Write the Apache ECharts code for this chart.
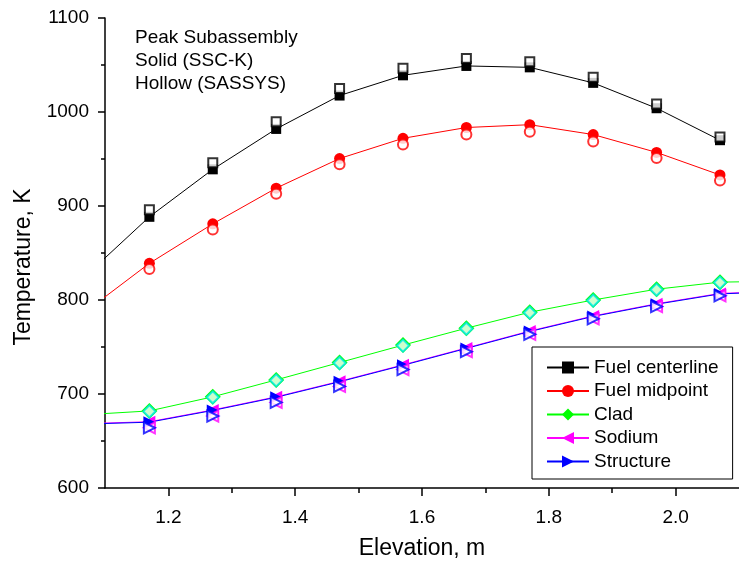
<!DOCTYPE html>
<html>
<head>
<meta charset="utf-8">
<script src="https://cdn.jsdelivr.net/npm/echarts@6/dist/echarts.min.js"></script>
<style>
  html, body { margin: 0; padding: 0; background: #fff; }
  #chart { width: 739px; height: 565px; }
</style>
</head>
<body>
<div id="chart"></div>
<script>
// Axial temperature profiles in the peak subassembly.
// Solid markers: SSC-K results (with connecting lines); hollow markers: SASSYS results.

// Elevations (m) of the computed nodes; first and last nodes lie just outside the plotted range.
const elevation = [1.07, 1.17, 1.27, 1.37, 1.47, 1.57, 1.67, 1.77, 1.87, 1.97, 2.07, 2.17];
const elevationHollow = [1.17, 1.27, 1.37, 1.47, 1.57, 1.67, 1.77, 1.87, 1.97, 2.07];

// SSC-K temperatures (K)
const fuelCenterlineSSC = [826, 888.5, 939, 982, 1017.5, 1039, 1049, 1047.5, 1031, 1004, 970, null];
const fuelMidpointSSC   = [788, 839, 881, 919, 950.5, 972, 983.5, 986.5, 976, 957, 933, null];
const cladSSC           = [678, 682, 697, 715, 733.5, 752, 770, 787, 800, 811.5, 819, 820];
const sodiumSSC         = [668.5, 670.5, 683, 697, 713.5, 731, 749, 767, 783, 796, 807, 809.5];
const structureSSC      = [668, 670, 682.5, 696.5, 713, 730.5, 748.5, 766.5, 782.5, 795.5, 806.5, 809];

// SASSYS temperatures (K)
const fuelCenterlineSAS = [896, 946, 989.5, 1025, 1046.5, 1057, 1053.5, 1037, 1008.5, 973.5];
const fuelMidpointSAS   = [833, 875, 913, 944.5, 965.5, 976, 979, 968.5, 951, 927];
const cladSAS           = [681.5, 696.5, 714.5, 733, 751.5, 769.5, 786.5, 799.5, 811, 818.5];
const sodiumSAS         = [664, 676.5, 691, 708, 726, 745, 763.5, 780, 793, 804.5];
const structureSAS      = [664, 676.5, 691, 708, 726, 745, 763.5, 780, 793, 804.5];

// Axis ticks
const xMajorTicks = [1.2, 1.4, 1.6, 1.8, 2.0];
const xMinorTicks = [1.3, 1.5, 1.7, 1.9];

const seriesNames = ['Fuel centerline', 'Fuel midpoint', 'Clad', 'Sodium', 'Structure'];

const FONT = "'Liberation Sans', Arial, sans-serif";

function pairs(xs, ys) {
  const out = [];
  xs.forEach((x, i) => { if (ys[i] !== null && ys[i] !== undefined) out.push([x, ys[i]]); });
  return out;
}

function solidSeries(name, ys, color, symbol, size, rotate) {
  return {
    name: name,
    type: 'line',
    data: pairs(elevation, ys),
    symbol: symbol,
    symbolSize: size,
    symbolRotate: rotate || 0,
    showAllSymbol: true,
    clip: true,
    z: 2,
    lineStyle: { color: color, width: 1 },
    itemStyle: { color: color },
    emphasis: { disabled: true },
    animation: false
  };
}

function hollowSeries(ys, color, symbol, size, rotate) {
  return {
    type: 'scatter',
    data: pairs(elevationHollow, ys),
    symbol: symbol,
    symbolSize: size,
    symbolRotate: rotate || 0,
    z: 4,
    itemStyle: { color: color, borderWidth: 1.5 },
    emphasis: { disabled: true },
    animation: false
  };
}

const chart = echarts.init(document.getElementById('chart'), null, { renderer: 'canvas' });

chart.setOption({
  backgroundColor: '#fff',
  animation: false,
  grid: { left: 105, top: 18, right: -3, bottom: 77, containLabel: false },
  xAxis: [
    {
      type: 'value', min: 1.1, max: 2.1, position: 'bottom',
      axisLine: { show: true, onZero: false, lineStyle: { color: '#000', width: 1.5 } },
      axisTick: { show: true, customValues: xMajorTicks, length: 8, lineStyle: { color: '#000', width: 1.5 } },
      axisLabel: {
        customValues: xMajorTicks, formatter: v => v.toFixed(1),
        fontSize: 19, color: '#000', fontFamily: FONT, margin: 20
      },
      splitLine: { show: false },
      name: 'Elevation, m', nameLocation: 'middle', nameGap: 49,
      nameTextStyle: { fontSize: 23, color: '#000', fontFamily: FONT }
    },
    {
      type: 'value', min: 1.1, max: 2.1, position: 'bottom',
      axisLine: { show: false, onZero: false },
      axisTick: { show: true, customValues: xMinorTicks, length: 5, lineStyle: { color: '#000', width: 1.5 } },
      axisLabel: { show: false },
      splitLine: { show: false }
    }
  ],
  yAxis: {
    type: 'value', min: 600, max: 1100, interval: 100,
    axisLine: { show: true, onZero: false, lineStyle: { color: '#000', width: 1.5 } },
    axisTick: { show: true, length: 7, lineStyle: { color: '#000', width: 1.5 } },
    minorTick: { show: true, splitNumber: 2, length: 4, lineStyle: { color: '#000', width: 1.5 } },
    axisLabel: { fontSize: 19, color: '#000', fontFamily: FONT, margin: 16, formatter: v => String(v) },
    splitLine: { show: false }
  },
  legend: {
    data: seriesNames,
    orient: 'vertical',
    left: 532, top: 347,
    itemWidth: 42, itemHeight: 15, itemGap: 4.5,
    padding: [11, 14, 8, 14],
    borderColor: '#000', borderWidth: 1,
    textStyle: { fontSize: 19, color: '#000', fontFamily: FONT },
    selectedMode: false
  },
  graphic: [
    { type: 'text', x: 135, y: 38, style: { text: 'Peak Subassembly', font: '19px ' + FONT, fill: '#000', textVerticalAlign: 'middle' } },
    { type: 'text', x: 135, y: 61, style: { text: 'Solid (SSC-K)', font: '19px ' + FONT, fill: '#000', textVerticalAlign: 'middle' } },
    { type: 'text', x: 135, y: 84, style: { text: 'Hollow (SASSYS)', font: '19px ' + FONT, fill: '#000', textVerticalAlign: 'middle' } },
    { type: 'text', x: 24, y: 267, rotation: Math.PI / 2,
      style: { text: 'Temperature, K', font: '23px ' + FONT, fill: '#000', textAlign: 'center', textVerticalAlign: 'middle' } }
  ],
  series: [
    solidSeries('Fuel centerline', fuelCenterlineSSC, '#000000', 'rect', 10),
    solidSeries('Fuel midpoint', fuelMidpointSSC, '#ff0000', 'circle', 11),
    solidSeries('Clad', cladSSC, '#00ff00', 'diamond', 16),
    solidSeries('Sodium', sodiumSSC, '#ff00ff', 'triangle', 12, 90),
    solidSeries('Structure', structureSSC, '#0000ff', 'triangle', 12, -90),
    hollowSeries(fuelCenterlineSAS, '#000000', 'emptyRect', 9),
    hollowSeries(fuelMidpointSAS, '#ff0000', 'emptyCircle', 10),
    hollowSeries(cladSAS, '#00e8e8', 'emptyDiamond', 12),
    hollowSeries(sodiumSAS, '#ff00ff', 'emptyTriangle', 11, 90),
    hollowSeries(structureSAS, '#0000ff', 'emptyTriangle', 11, -90)
  ]
});
</script>
</body>
</html>
